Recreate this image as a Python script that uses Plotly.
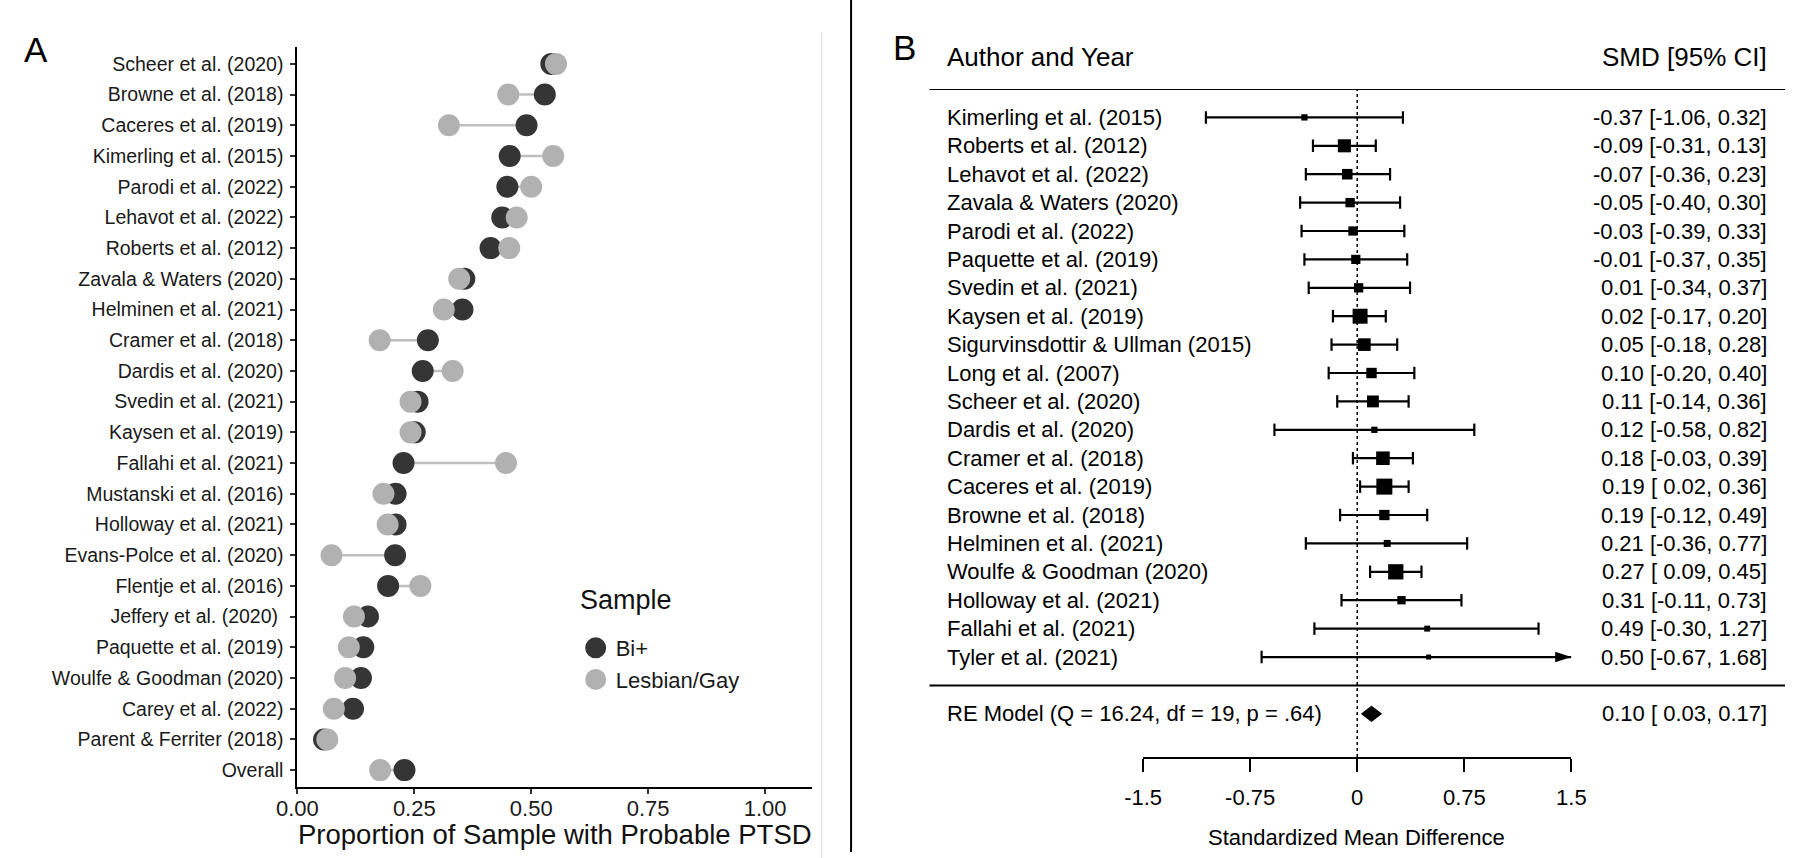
import numpy as np
import plotly.graph_objects as go

W, H = 1800, 858

# ---------------- Panel A data ----------------
a_studies = [
    "Scheer et al. (2020)", "Browne et al. (2018)", "Caceres et al. (2019)",
    "Kimerling et al. (2015)", "Parodi et al. (2022)", "Lehavot et al. (2022)",
    "Roberts et al. (2012)", "Zavala & Waters (2020)", "Helminen et al. (2021)",
    "Cramer et al. (2018)", "Dardis et al. (2020)", "Svedin et al. (2021)",
    "Kaysen et al. (2019)", "Fallahi et al. (2021)", "Mustanski et al. (2016)",
    "Holloway et al. (2021)", "Evans-Polce et al. (2020)", "Flentje et al. (2016)",
    "Jeffery et al. (2020)\u00a0", "Paquette et al. (2019)", "Woulfe & Goodman (2020)",
    "Carey et al. (2022)", "Parent & Ferriter (2018)", "Overall",
]
a_bi = [0.543, 0.529, 0.490, 0.454, 0.449, 0.438, 0.413, 0.357, 0.353, 0.279,
        0.268, 0.257, 0.251, 0.227, 0.210, 0.210, 0.209, 0.194, 0.151, 0.141,
        0.136, 0.119, 0.057, 0.229]
a_lg = [0.553, 0.451, 0.324, 0.547, 0.500, 0.469, 0.453, 0.346, 0.313, 0.176,
        0.332, 0.242, 0.242, 0.446, 0.184, 0.193, 0.073, 0.263, 0.121, 0.110,
        0.102, 0.078, 0.064, 0.177]
a_series = ["Bi+", "Lesbian/Gay"]
a_ticks = [0, 0.25, 0.5, 0.75, 1.0]
a_ticktext = ["0.00", "0.25", "0.50", "0.75", "1.00"]
a_xtitle = "Proportion of Sample with Probable PTSD"
a_legend_title = "Sample"

# ---------------- Panel B data ----------------
b_studies = [
    "Kimerling et al. (2015)", "Roberts et al. (2012)", "Lehavot et al. (2022)",
    "Zavala & Waters (2020)", "Parodi et al. (2022)", "Paquette et al. (2019)",
    "Svedin et al. (2021)", "Kaysen et al. (2019)", "Sigurvinsdottir & Ullman (2015)",
    "Long et al. (2007)", "Scheer et al. (2020)", "Dardis et al. (2020)",
    "Cramer et al. (2018)", "Caceres et al. (2019)", "Browne et al. (2018)",
    "Helminen et al. (2021)", "Woulfe & Goodman (2020)", "Holloway et al. (2021)",
    "Fallahi et al. (2021)", "Tyler et al. (2021)",
]
b_smd = [-0.37, -0.09, -0.07, -0.05, -0.03, -0.01, 0.01, 0.02, 0.05, 0.10,
         0.11, 0.12, 0.18, 0.19, 0.19, 0.21, 0.27, 0.31, 0.49, 0.50]
b_lo = [-1.06, -0.31, -0.36, -0.40, -0.39, -0.37, -0.34, -0.17, -0.18, -0.20,
        -0.14, -0.58, -0.03, 0.02, -0.12, -0.36, 0.09, -0.11, -0.30, -0.67]
b_hi = [0.32, 0.13, 0.23, 0.30, 0.33, 0.35, 0.37, 0.20, 0.28, 0.40,
        0.36, 0.82, 0.39, 0.36, 0.49, 0.77, 0.45, 0.73, 1.27, 1.68]
re_label = "RE Model (Q = 16.24, df = 19, p = .64)"
re_smd, re_lo, re_hi = 0.10, 0.03, 0.17
b_ticks = [-1.5, -0.75, 0, 0.75, 1.5]
b_ticktext = ["-1.5", "-0.75", "0", "0.75", "1.5"]
b_header_left = "Author and Year"
b_header_right = "SMD [95% CI]"
b_xtitle = "Standardized Mean Difference"

FONT = "Liberation Sans, Arial, sans-serif"
DARK = "#353535"
LIGHT = "#B1B1B1"


def px(x):
    return x / W


def py(y):
    return 1 - y / H


fig = go.Figure()

# ---------------- Panel A traces ----------------
seg_x, seg_y = [], []
for s, b, l in zip(a_studies, a_bi, a_lg):
    seg_x += [b, l, None]
    seg_y += [s, s, None]
fig.add_trace(go.Scatter(x=seg_x, y=seg_y, mode="lines",
                         line=dict(color="#BEBEBE", width=2.5),
                         showlegend=False, hoverinfo="skip",
                         xaxis="x", yaxis="y"))
fig.add_trace(go.Scatter(x=a_bi, y=a_studies, mode="markers", name=a_series[0],
                         marker=dict(color=DARK, size=17, opacity=1,
                                     line=dict(color=DARK, width=5)),
                         xaxis="x", yaxis="y"))
fig.add_trace(go.Scatter(x=a_lg, y=a_studies, mode="markers", name=a_series[1],
                         marker=dict(color=LIGHT, size=17, opacity=1,
                                     line=dict(color=LIGHT, width=5)),
                         xaxis="x", yaxis="y"))

# ---------------- Panel B traces ----------------
k = len(b_studies)
rows = [k - i for i in range(k)]
xmax = b_ticks[-1]
cap = 0.22

ci_x, ci_y, cap_x, cap_y = [], [], [], []
arr_x, arr_y = [], []
for r, lo, hi in zip(rows, b_lo, b_hi):
    ci_x += [lo, min(hi, xmax), None]
    ci_y += [r, r, None]
    cap_x += [lo, lo, None]
    cap_y += [r - cap, r + cap, None]
    if hi <= xmax:
        cap_x += [hi, hi, None]
        cap_y += [r - cap, r + cap, None]
    else:
        arr_x.append(xmax)
        arr_y.append(r)

fig.add_trace(go.Scatter(x=ci_x, y=ci_y, mode="lines",
                         line=dict(color="black", width=2.2),
                         showlegend=False, hoverinfo="skip", cliponaxis=False,
                         xaxis="x2", yaxis="y2"))
fig.add_trace(go.Scatter(x=cap_x, y=cap_y, mode="lines",
                         line=dict(color="black", width=2.2),
                         showlegend=False, hoverinfo="skip", cliponaxis=False,
                         xaxis="x2", yaxis="y2"))

se = (np.array(b_hi) - np.array(b_lo)) / (2 * 1.96)
sw = np.sqrt(1 / se ** 2)
psize = 5 + (sw - sw.min()) / (sw.max() - sw.min()) * 11

fig.add_trace(go.Scatter(x=b_smd, y=rows, mode="markers",
                         marker=dict(symbol="square", color="black", size=psize,
                                     opacity=1, line=dict(width=0)),
                         showlegend=False, cliponaxis=False,
                         xaxis="x2", yaxis="y2"))
if arr_x:
    fig.add_trace(go.Scatter(x=arr_x, y=arr_y, mode="markers",
                             marker=dict(symbol="arrow", angle=90, size=17,
                                         color="black", opacity=1,
                                         line=dict(width=0)),
                             showlegend=False, cliponaxis=False,
                             xaxis="x2", yaxis="y2"))

re_row = -1
dh = 0.27
fig.add_trace(go.Scatter(x=[re_lo, re_smd, re_hi, re_smd, re_lo],
                         y=[re_row, re_row + dh, re_row, re_row - dh, re_row],
                         mode="lines", fill="toself", fillcolor="black",
                         line=dict(color="black", width=1),
                         showlegend=False, hoverinfo="skip",
                         xaxis="x2", yaxis="y2"))

# ---------------- Axes ----------------
A_X0, A_X1, A_Y0, A_Y1 = 282, 807, 47, 787
B_X0, B_X1, B_Y0, B_Y1 = 1145, 1582, 89, 757
B_YMIN, B_YMAX = -2.52, 21

fig.update_layout(
    width=W, height=H,
    margin=dict(l=0, r=0, t=0, b=0),
    paper_bgcolor="white", plot_bgcolor="white",
    font=dict(family=FONT, color="black"),
    xaxis=dict(domain=[px(A_X0), px(A_X1)], range=[0, 1.1],
               tickvals=a_ticks, ticktext=a_ticktext,
               showline=True, linecolor="black", linewidth=2,
               ticks="outside", ticklen=5, tickwidth=1.5, tickcolor="#333",
               showgrid=False, zeroline=False,
               tickfont=dict(size=22, color="#1a1a1a"),
               ticklabelstandoff=-4, anchor="y"),
    yaxis=dict(domain=[py(A_Y1), py(A_Y0)], type="category",
               categoryorder="array", categoryarray=a_studies,
               range=[len(a_studies) - 1 + 0.55, -0.55],
               showline=True, linecolor="black", linewidth=2,
               ticks="outside", ticklen=5, tickwidth=1.5, tickcolor="#333",
               showgrid=False, zeroline=False,
               tickfont=dict(size=19.5, color="#1a1a1a"),
               ticklabelstandoff=3, anchor="x"),
    xaxis2=dict(domain=[px(B_X0), px(B_X1)], range=[b_ticks[0], b_ticks[-1]],
                tickvals=b_ticks, ticktext=b_ticktext,
                showline=True, linecolor="black", linewidth=2,
                ticks="outside", ticklen=13, tickwidth=2, tickcolor="black",
                showgrid=False, zeroline=False,
                tickfont=dict(size=22, color="black"),
                ticklabelstandoff=7, anchor="y2"),
    yaxis2=dict(domain=[py(B_Y1), py(B_Y0)], range=[B_YMIN, B_YMAX],
                visible=False, anchor="x2"),
    legend=dict(x=px(566), xanchor="left", y=py(627), yanchor="top",
                font=dict(size=22, color="#1a1a1a"),
                bgcolor="rgba(0,0,0,0)", itemsizing="trace"),
    showlegend=True,
)

shapes = [
    # faint panel A border
    dict(type="line", xref="paper", yref="paper", x0=px(817), x1=px(817),
         y0=py(32), y1=py(858), line=dict(color="#E6E6E6", width=1.5)),
    # divider
    dict(type="line", xref="paper", yref="paper", x0=px(847), x1=px(847),
         y0=py(0), y1=py(852), line=dict(color="black", width=2)),
    # dotted zero line
    dict(type="line", xref="x2", yref="y2", x0=0, x1=0, y0=B_YMIN, y1=k + 1,
         line=dict(color="black", width=1.5, dash="dot")),
    # header separator
    dict(type="line", xref="paper", yref="y2", x0=px(927), x1=1, y0=k + 1, y1=k + 1,
         line=dict(color="black", width=2)),
    # bottom separator
    dict(type="line", xref="paper", yref="y2", x0=px(927), x1=1, y0=0, y1=0,
         line=dict(color="black", width=2)),
]
fig.update_layout(shapes=shapes)

ann = []
LBL_X = px(943)
CI_X = px(1784)
for r, s, m, lo, hi in zip(rows, b_studies, b_smd, b_lo, b_hi):
    ann.append(dict(x=LBL_X, y=r, xref="paper", yref="y2", text=s,
                    xanchor="left", yanchor="middle", showarrow=False,
                    font=dict(size=22)))
    ann.append(dict(x=CI_X, y=r, xref="paper", yref="y2",
                    text=f"{m:.2f} [{lo:5.2f}, {hi:.2f}]".replace("[ ", "[\u00a0"),
                    xanchor="right", yanchor="middle", showarrow=False,
                    font=dict(size=22)))
ann.append(dict(x=LBL_X, y=re_row, xref="paper", yref="y2", text=re_label,
                xanchor="left", yanchor="middle", showarrow=False, font=dict(size=22)))
ann.append(dict(x=CI_X, y=re_row, xref="paper", yref="y2",
                text=f"{re_smd:.2f} [{re_lo:5.2f}, {re_hi:.2f}]".replace("[ ", "[\u00a0"),
                xanchor="right", yanchor="middle", showarrow=False, font=dict(size=22)))
ann.append(dict(x=LBL_X, y=py(57), xref="paper", yref="paper", text=b_header_left,
                xanchor="left", yanchor="middle", showarrow=False, font=dict(size=26)))
ann.append(dict(x=CI_X, y=py(57), xref="paper", yref="paper", text=b_header_right,
                xanchor="right", yanchor="middle", showarrow=False, font=dict(size=26)))
ann.append(dict(x=px(1363), y=py(837), xref="paper", yref="paper", text=b_xtitle,
                xanchor="center", yanchor="middle", showarrow=False, font=dict(size=22)))
ann.append(dict(x=px((A_X0 + A_X1) / 2), y=py(834), xref="paper", yref="paper",
                text=a_xtitle, xanchor="center", yanchor="middle", showarrow=False,
                font=dict(size=27.5, color="#111")))
ann.append(dict(x=px(568), y=py(600), xref="paper", yref="paper", text=a_legend_title,
                xanchor="left", yanchor="middle", showarrow=False,
                font=dict(size=27, color="#111")))
ann.append(dict(x=px(15), y=py(49), xref="paper", yref="paper", text="A",
                xanchor="center", yanchor="middle", showarrow=False, font=dict(size=35)))
ann.append(dict(x=px(902), y=py(48), xref="paper", yref="paper", text="B",
                xanchor="center", yanchor="middle", showarrow=False, font=dict(size=35)))
fig.update_layout(annotations=ann)

fig.write_html(
    "out.html",
    config={"displayModeBar": False},
    post_script="document.body.style.margin='0';document.body.style.overflow='hidden';",
)
